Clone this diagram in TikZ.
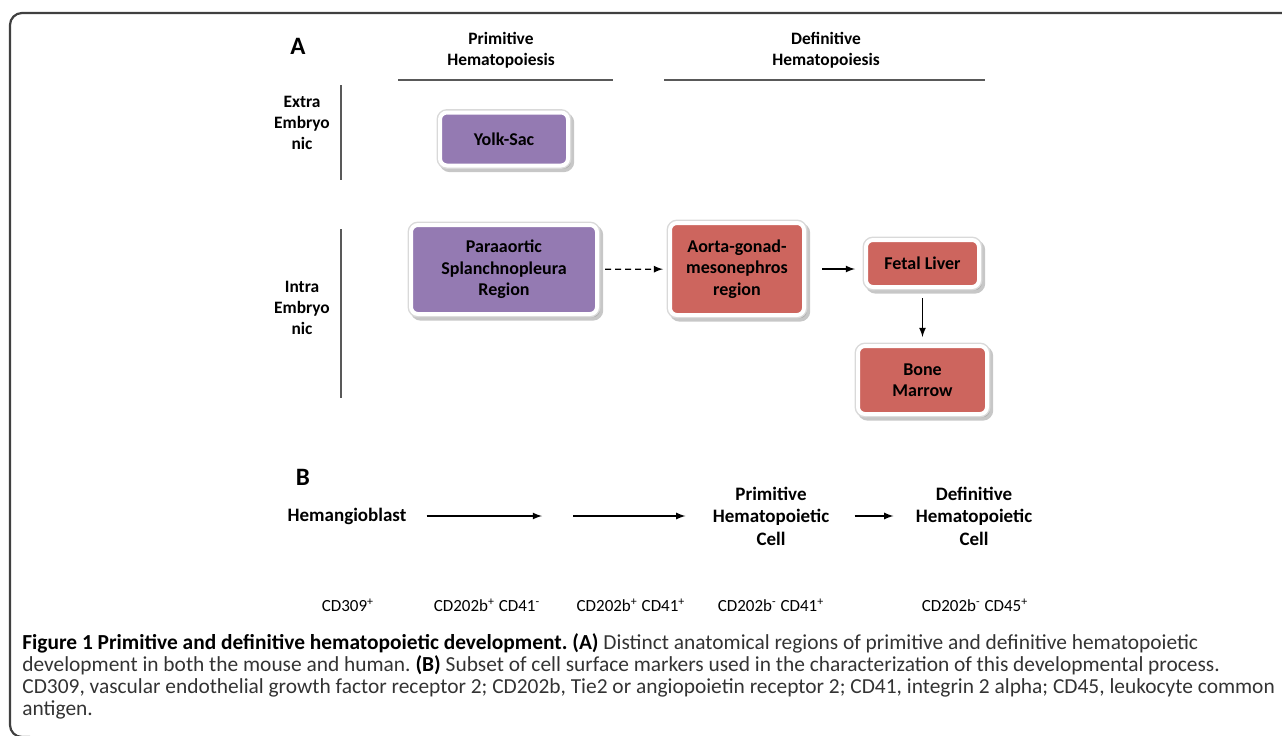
\documentclass[tikz,border=0pt]{standalone}
\usepackage{fontspec}
\setmainfont{Carlito}
\frenchspacing
\usetikzlibrary{arrows,positioning,shadows}

\definecolor{sacpurple}{RGB}{148,122,178}
\definecolor{agmred}{RGB}{205,101,94}

\begin{document}
\begin{tikzpicture}[x=0.5pt,y=-0.5pt,>=latex,on grid,
  every node/.style={inner sep=0pt,align=center}]
  \tikzstyle{region}=[rounded corners=3.5pt,draw=white,line width=2pt,
    font=\bfseries\fontsize{9}{10.75}\selectfont,
    drop shadow={shadow xshift=1.4pt,shadow yshift=-1.6pt,fill=black!40,
      draw=black!40,line width=3.4pt,opacity=.55},
    preaction={draw=black!15,line width=3.4pt}]
  \tikzstyle{head}=[font=\bfseries\fontsize{8.7}{10.3}\selectfont]
  \tikzstyle{stage}=[font=\bfseries\fontsize{9.5}{11.25}\selectfont]
  \tikzstyle{marker}=[font=\fontsize{8.5}{10}\selectfont]
  \tikzstyle{panel}=[font=\bfseries\fontsize{12.5}{14}\selectfont]
  \tikzstyle{rule}=[draw=black!65,line width=0.6pt]
  \tikzstyle{flow}=[->,line width=0.6pt]

  \useasboundingbox (0,0) rectangle (1282,735);
  % frame
  \draw[black!75,line width=1.1pt,rounded corners=6pt]
    (1290,13) -- (10,13) -- (10,737) -- (30,737);

  % panel A
  \node[panel] (pA) at (298,46) {A};
  \node[head] (primhead) at (501,50) {Primitive\\Hematopoiesis};
  \node[head] (defhead) at (826,50) {Definitive\\Hematopoiesis};
  \draw[rule] (398,80) -- (613,80);
  \draw[rule] (664,80) -- (985,80);

  \node[head] (extra) at (302,123) {Extra\\Embryo\\nic};
  \node[head] (intra) at (302,308) {Intra\\Embryo\\nic};
  \draw[rule] (341,85) -- (341,180);
  \draw[rule] (341,229) -- (341,398);

  \node[region,fill=sacpurple,minimum width=64pt,minimum height=26.5pt] (yolk) at (504,139) {Yolk-Sac};
  \node[region,fill=sacpurple,minimum width=93pt,minimum height=44.5pt] (psp) at (504,269.5) {Paraaortic\\Splanchnopleura\\Region};
  \node[region,fill=agmred,minimum width=67pt,minimum height=46pt] (agm) at (737,269) {Aorta-gonad-\\mesonephros\\region};
  \node[region,fill=agmred,minimum width=56.5pt,minimum height=23.5pt] (fetal) at (922.5,263.5) {Fetal Liver};
  \node[region,fill=agmred,minimum width=64.5pt,minimum height=34pt,below=58.25pt of fetal] (bone) {Bone\\Marrow};

  \draw[flow,dashed,dash pattern=on 3pt off 2pt,shorten <=3pt,shorten >=2.5pt] (psp) -- (agm);
  \draw[flow,shorten <=8pt,shorten >=4.5pt] (agm.east) -- (agm.east -| fetal.west);
  \draw[flow,shorten <=4.5pt,shorten >=3.5pt] (fetal) -- (bone);

  % panel B
  \node[panel] (pB) at (303,477) {B};
  \node[stage] (hemangio) at (347,516) {Hemangioblast};
  \coordinate (gap1) at (542,516);
  \coordinate (gap2) at (573,516);
  \node[stage] (primcell) at (771,516) {Primitive\\Hematopoietic\\Cell};
  \node[stage,right=101.5pt of primcell] (defcell) {Definitive\\Hematopoietic\\Cell};

  \draw[flow,shorten <=10pt] (hemangio) -- (gap1);
  \draw[flow,shorten >=13.5pt] (gap2) -- (primcell);
  \draw[flow,shorten <=12.5pt,shorten >=11pt] (primcell) -- (defcell);

  \node[marker] (m1) at (348,605) {CD309\textsuperscript{+}};
  \node[marker] (m2) at (487,605) {CD202b\textsuperscript{+} CD41\textsuperscript{-}};
  \node[marker] (m3) at (631,605) {CD202b\textsuperscript{+} CD41\textsuperscript{+}};
  \node[marker] (m4) at (771,605) {CD202b\textsuperscript{-} CD41\textsuperscript{+}};
  \node[marker] (m5) at (975,605) {CD202b\textsuperscript{-} CD45\textsuperscript{+}};

  % caption
  \node[anchor=north west,align=left,font=\fontsize{10.7}{11}\selectfont,text=black!80] (caption) at (22,633)
    {\textbf{\color{black}Figure 1 Primitive and definitive hematopoietic development. (A)} Distinct anatomical regions of primitive and definitive hematopoietic\\
     development in both the mouse and human. \textbf{\color{black}(B)} Subset of cell surface markers used in the characterization of this developmental process.\\
     CD309, vascular endothelial growth factor receptor 2; CD202b, Tie2 or angiopoietin receptor 2; CD41, integrin 2 alpha; CD45, leukocyte common\\
     antigen.};
\end{tikzpicture}
\end{document}
